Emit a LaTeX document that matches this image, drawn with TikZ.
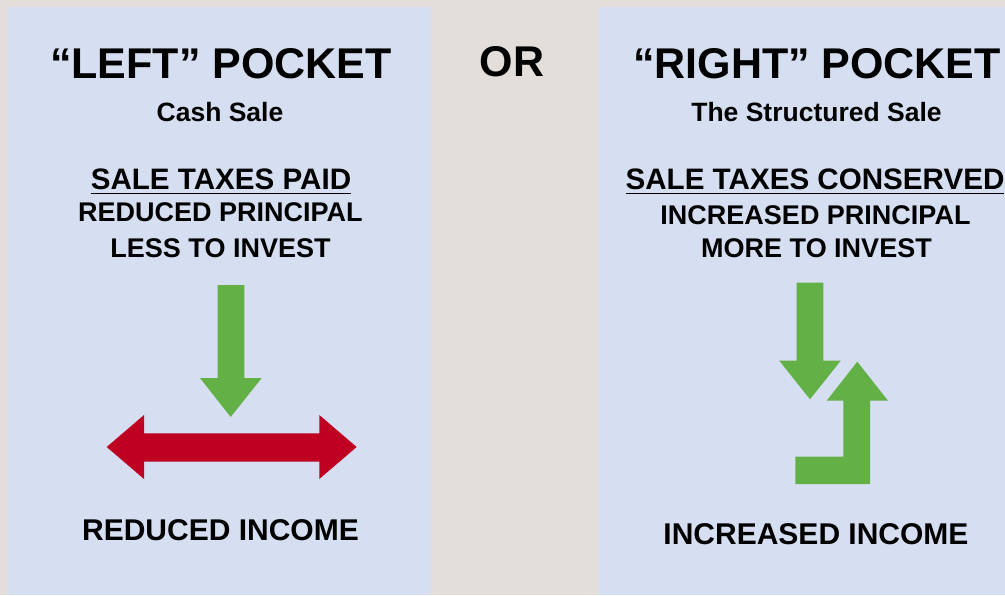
\documentclass[tikz,border=0pt]{standalone}
\usepackage{fontspec}
\setmainfont{Liberation Sans}
\definecolor{bgbeige}{RGB}{227,222,218}
\definecolor{panelblue}{RGB}{214,223,241}
\definecolor{arrgreen}{RGB}{98,176,70}
\definecolor{arrred}{RGB}{190,0,35}
\newcommand\myunder[1]{\setbox0\hbox{#1}\rlap{\rule[-4.8pt]{\wd0}{1.6pt}}\box0}
\begin{document}
\begin{tikzpicture}[x=1pt,y=-1pt,
  txt/.style={anchor=base,inner sep=0pt,font=\bfseries},
  title/.style={txt,font=\fontsize{43}{43}\selectfont\bfseries},
  sub/.style={txt,font=\fontsize{26.5}{26.5}\selectfont\bfseries},
  ulline/.style={txt,font=\fontsize{29.6}{29.6}\selectfont\bfseries},
  line/.style={txt,font=\fontsize{27}{27}\selectfont\bfseries},
  result/.style={txt,font=\fontsize{30}{30}\selectfont\bfseries}]
\useasboundingbox (0,0) rectangle (1005,595);
\fill[bgbeige] (0,0) rectangle (1005,595);
\fill[panelblue] (8,6.5) rectangle (431,595);
\fill[panelblue] (597.7,6.5) rectangle (1005,595);
% left column
\node[title] (lt) at (221,78.3) {“LEFT” POCKET};
\node[sub] (ls) at (220,121) {Cash Sale};
\node[ulline] (lu) at (221,189.3) {\myunder{SALE TAXES PAID}};
\node[line] (l1) at (220.5,221) {REDUCED PRINCIPAL};
\node[line] (l2) at (220.5,257.3) {LESS TO INVEST};
\node[result] (lr) at (220.5,540.7) {REDUCED INCOME};
% OR
\node[title] (or) at (512,76) {OR};
% right column
\node[title] (rt) at (817,78.3) {“RIGHT” POCKET};
\node[sub] (rs) at (816.5,121) {The Structured Sale};
\node[ulline] (ru) at (815,189.3) {\myunder{SALE TAXES CONSERVED}};
\node[line] (r1) at (815.5,224.3) {INCREASED PRINCIPAL};
\node[line] (r2) at (816.5,257.3) {MORE TO INVEST};
\node[result] (rr) at (816,544) {INCREASED INCOME};
% left arrows
\fill[arrgreen] (217.7,285) -- (244.3,285) -- (244.3,378) -- (261.7,378)
  -- (230.7,417) -- (200,378) -- (217.7,378) -- cycle;
\fill[arrred] (106.7,447) -- (144,415) -- (144,433.3) -- (319.3,433.3)
  -- (319.3,415) -- (356.7,447) -- (319.3,479) -- (319.3,461.7)
  -- (144,461.7) -- (144,479) -- cycle;
% right arrows
\fill[arrgreen] (796.7,282.7) -- (823.3,282.7) -- (823.3,360.7) -- (840.7,360.7)
  -- (810,399.3) -- (779.3,360.7) -- (796.7,360.7) -- cycle;
\fill[arrgreen] (857.3,361.7) -- (888,400.7) -- (870,400.7) -- (870,484)
  -- (795.3,484) -- (795.3,456.7) -- (843.3,456.7) -- (843.3,400.7)
  -- (826.7,400.7) -- cycle;
\end{tikzpicture}
\end{document}
